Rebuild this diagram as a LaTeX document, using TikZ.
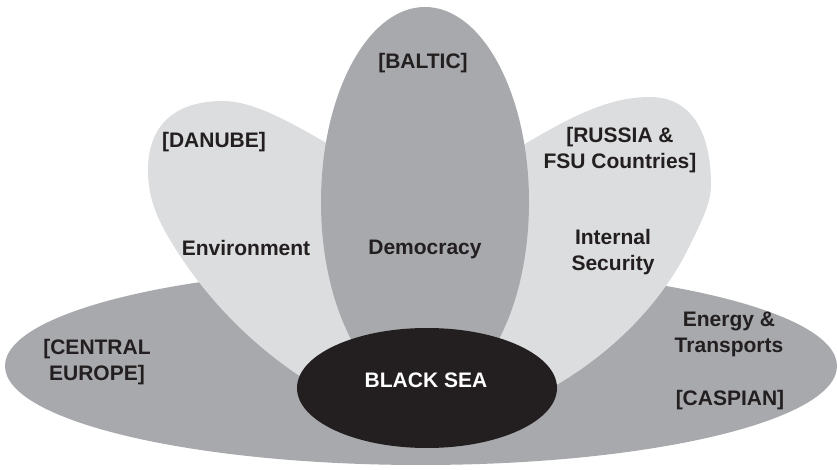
\documentclass[tikz,border=0pt]{standalone}
\usepackage{fontspec}
\setmainfont{Liberation Sans}
\usepackage{xcolor}
\usepackage{tikz}

\definecolor{regiongray}{HTML}{A7A9AC}
\definecolor{petalgray}{HTML}{DCDDDE}
\definecolor{seablack}{HTML}{231F20}

\begin{document}
\begin{tikzpicture}[
  x=0.5pt, y=-0.5pt,
  lbl/.style={font=\fontsize{10.5}{13}\selectfont\bfseries, align=center, text=seablack, inner sep=0pt},
  region/.style={fill=regiongray},
  petal/.style={fill=petalgray},
]
  \useasboundingbox (0,0) rectangle (837,470);

  % Outer ring: Central Europe to the Caspian
  \fill[region] (421,366) ellipse [x radius=416, y radius=99];

  % Left petal (Danube)
  \fill[petal] (415,425) .. controls (330,410) and (230,340) .. (170,240)
    .. controls (152,210) and (148,190) .. (148,170)
    .. controls (148,125) and (175,101) .. (223,101)
    .. controls (255,101) and (295,125) .. (330,145)
    .. controls (370,180) and (410,330) .. (415,425) -- cycle;

  % Right petal (Russia & FSU)
  \fill[petal] (440,425) .. controls (520,420) and (640,350) .. (690,245)
    .. controls (705,215) and (711,200) .. (711,185)
    .. controls (711,130) and (690,97) .. (650,97)
    .. controls (615,97) and (580,110) .. (515,150)
    .. controls (480,180) and (440,330) .. (440,425) -- cycle;

  % Middle petal (Baltic)
  \fill[region] (425,202) ellipse [x radius=104, y radius=195];

  % Core
  \fill[seablack] (427,388) ellipse [x radius=130, y radius=60];

  % Labels
  \node[lbl] (baltic) at (423,63) {[BALTIC]};
  \node[lbl] (danube) at (214,142) {[DANUBE]};
  \node[lbl] (environment) at (246,248) {Environment};
  \node[lbl] (democracy) at (425,249) {Democracy};
  \node[lbl] (russia) at (620,150) {[RUSSIA \&\\FSU Countries]};
  \node[lbl] (security) at (613,252) {Internal\\Security};
  \node[lbl] (energy) at (729,334) {Energy \&\\Transports};
  \node[lbl] (caspian) at (730,400) {[CASPIAN]};
  \node[lbl] (centraleurope) at (97,362) {[CENTRAL\\EUROPE]};
  \node[lbl, text=white] (blacksea) at (426,380) {BLACK SEA};
\end{tikzpicture}
\end{document}
